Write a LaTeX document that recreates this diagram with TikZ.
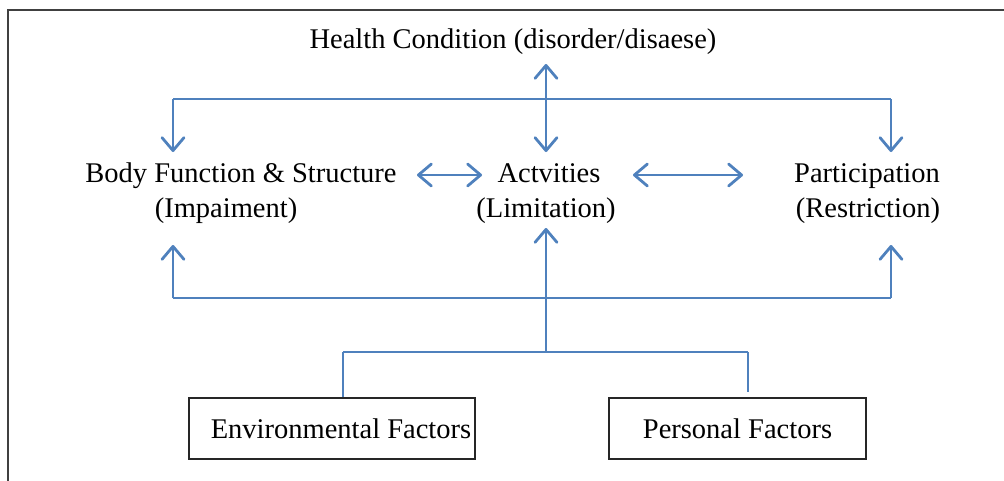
\documentclass[tikz,border=0pt]{standalone}
\usepackage{fontspec}
\setmainfont{Liberation Serif}
\usetikzlibrary{arrows.meta}
\definecolor{icfblue}{RGB}{79,129,189}
\definecolor{framegray}{RGB}{64,64,64}
\begin{document}
\begin{tikzpicture}[x=1pt,y=-1pt,
  lbl/.style={font=\fontsize{28.5}{34}\selectfont, inner sep=0pt, anchor=base},
  box/.style={draw=black!85, line width=1.5pt, minimum height=61pt, inner sep=0pt,
    font=\fontsize{28.5}{34}\selectfont},
  conn/.style={icfblue, line width=2.3pt},
  thinconn/.style={icfblue, line width=1.6pt},
  arr/.style={icfblue, line width=2.8pt, -{Straight Barb[length=13pt,width=22pt,round]}},
  darr/.style={icfblue, line width=2.8pt, {Straight Barb[length=13pt,width=22pt,round]}-{Straight Barb[length=13pt,width=22pt,round]}}]
\useasboundingbox (0,0) rectangle (1004,480);
\clip (0,0) rectangle (1004,480);
\draw[framegray, line width=1.5pt] (8,10) rectangle (1012,490);

% texts
\node[lbl] (hc) at (513,48) {Health Condition (disorder/disaese)};
\node[lbl] (body) at (241,182) {Body Function \& Structure};
\node[lbl] (bodyb) at (226,217) {(Impaiment)};
\node[lbl] (act) at (549,182) {Actvities};
\node[lbl] (actb) at (546,217) {(Limitation)};
\node[lbl] (part) at (867,182) {Participation};
\node[lbl] (partb) at (868,217) {(Restriction)};

% boxes
\node[box, minimum width=286pt] (env) at (332,428.5) {\hspace*{18pt}Environmental Factors};
\node[box, minimum width=257pt] (pers) at (737.5,428.5) {Personal Factors};

% junction coordinates
\coordinate (tl) at (173,99);
\coordinate (tr) at (891,99);
\coordinate (hcend) at (546,64);
\coordinate (actTop) at (546,152);
\coordinate (bodyTop) at (173,152);
\coordinate (partTop) at (891,152);
\coordinate (bl) at (173,298);
\coordinate (br) at (891,298);
\coordinate (bodyBot) at (173,245);
\coordinate (partBot) at (891,245);
\coordinate (bc) at (546,352);
\coordinate (actBot) at (546,228);
\coordinate (bbl) at (343,352);
\coordinate (bbr) at (748,352);
\coordinate (persTop) at (748,392);
\coordinate (bodyR) at (417,175);
\coordinate (actL) at (482,175);
\coordinate (actR) at (633,175);
\coordinate (partL) at (743,175);

% top
\draw[conn] (tl) -- (tr);
\draw[darr] (hcend) -- (actTop);
\draw[arr] (tl) -- (bodyTop);
\draw[arr] (tr) -- (partTop);
% middle
\draw[darr] (bodyR) -- (actL);
\draw[darr] (actR) -- (partL);
% bottom
\draw[conn] (bl) -- (br);
\draw[arr] (bl) -- (bodyBot);
\draw[arr] (br) -- (partBot);
\draw[arr] (bc) -- (actBot);
\draw[thinconn] (bbl) -- (bbr);
\draw[thinconn] (bbl) -- (env.north -| bbl);
\draw[thinconn] (bbr) -- (persTop);
\end{tikzpicture}
\end{document}
